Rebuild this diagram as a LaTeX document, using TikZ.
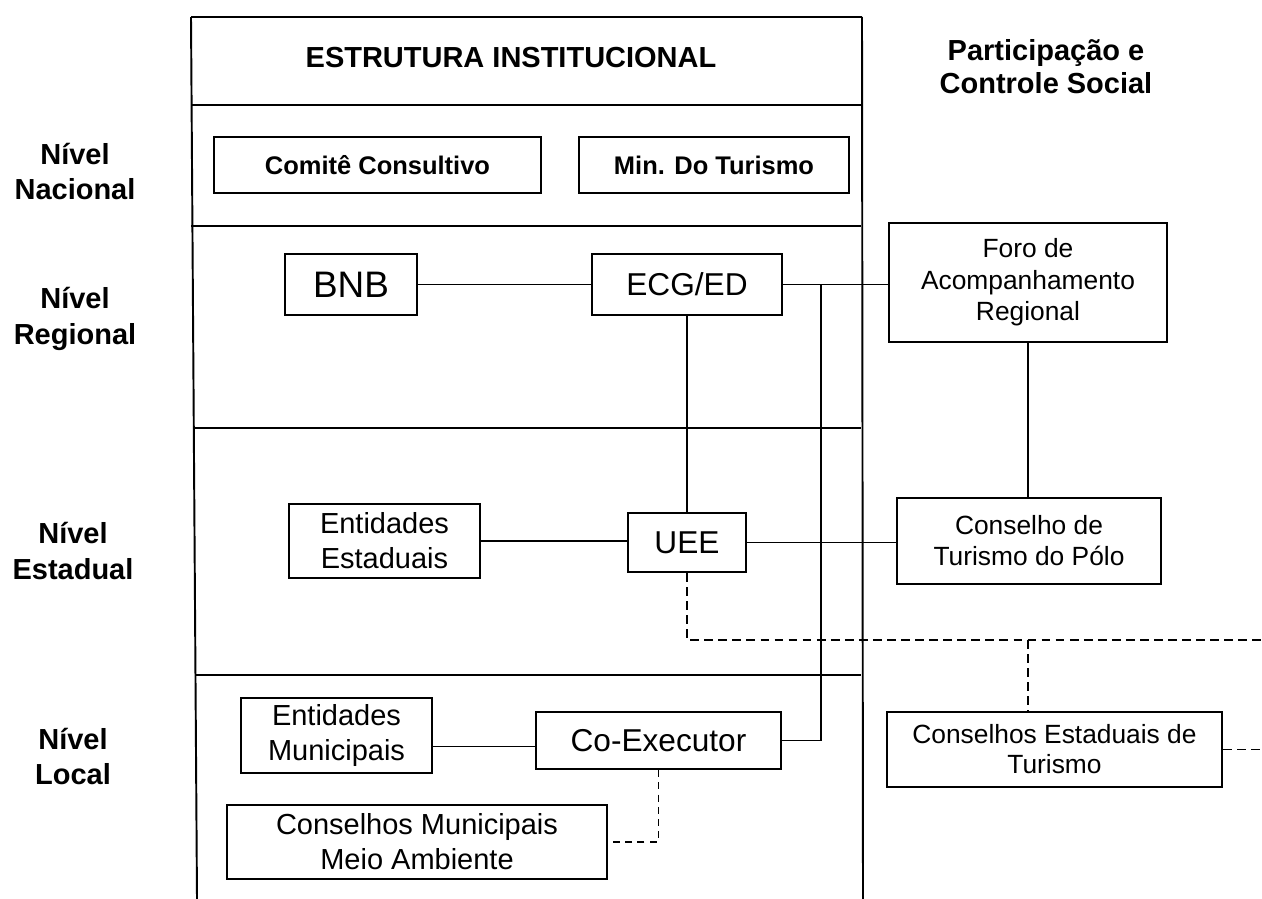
\documentclass[tikz,border=0pt]{standalone}
\usepackage{fontspec}
\setmainfont{Liberation Sans}
\begin{document}
\begin{tikzpicture}[x=0.02cm,y=-0.02cm,
  bx/.style={draw, line width=1.1pt, inner sep=0pt, align=center},
  sz/.style 2 args={minimum width=#1*0.02cm, minimum height=#2*0.02cm},
  fr/.style={line width=1.1pt},
  ln/.style={line width=1pt},
  dsh/.style={line width=1pt, dash pattern=on 5pt off 3pt},
  dshthin/.style={line width=0.7pt, dash pattern=on 4pt off 3pt},
  lvl/.style={font=\fontsize{16.5}{20}\selectfont\bfseries, align=center, inner sep=0pt},
  hd/.style={font=\fontsize{16.5}{19}\selectfont\bfseries, align=center, inner sep=0pt}
]
\useasboundingbox (0,0) rectangle (1262,899);

% frame of the institutional structure
\draw[fr] (191,17) -- (862,17);
\draw[fr] (191,17) -- (197,899);
\draw[fr] (862,17) -- (863,899);
\draw[fr] (191,105) -- (862,105);
\draw[fr] (191,226) -- (861,226);
\draw[fr] (194,428) -- (861,428);
\draw[fr] (195,675) -- (861,675);

% headers
\node[hd] (est) at (511,57.5) {ESTRUTURA INSTITUCIONAL};
\node[hd] (par) at (1046,66.5) {Participação e\\Controle Social};

% level labels
\node[lvl] (nac) at (75,171.5) {Nível\\Nacional};
\node[lvl] (reg) at (75,319) {Nível\\Regional};
\node[lvl] (estd) at (73,551) {Nível\\Estadual};
\node[lvl] (loc) at (73,756.5) {Nível\\Local};

% boxes
\node[bx, sz={327}{56}, font=\fontsize{14.5}{17}\selectfont\bfseries] (com) at (377.5,165) {Comitê Consultivo};
\node[bx, sz={270}{56}, font=\fontsize{14.5}{17}\selectfont\bfseries] (min) at (714,165) {Min. Do Turismo};

\node[bx, sz={132}{61}, font=\fontsize{21}{25}\selectfont] (bnb) at (351,284.5) {BNB};
\node[bx, sz={190}{61}, font=\fontsize{18}{22}\selectfont] (ecg) at (687,284.5) {ECG/ED};
\node[bx, sz={278}{119}, font=\fontsize{15}{18}\selectfont] (foro) at (1028,282.5) {Foro de\\Acompanhamento\\Regional};

\node[bx, sz={191}{74}, font=\fontsize{16.5}{20}\selectfont] (ente) at (384.5,541) {Entidades\\Estaduais};
\node[bx, sz={118}{59}, font=\fontsize{18}{22}\selectfont] (uee) at (687,542.5) {UEE};
\node[bx, sz={264}{86}, font=\fontsize{15}{17.7}\selectfont] (cons) at (1029,541) {Conselho de\\Turismo do Pólo};

\node[bx, sz={191}{75}, font=\fontsize{16.5}{20}\selectfont] (entm) at (336.5,735.5) {Entidades\\Municipais};
\node[bx, sz={245}{57}, font=\fontsize{18}{22}\selectfont] (coex) at (658.5,740.5) {Co-Executor};
\node[bx, sz={380}{74}, font=\fontsize{16.5}{20}\selectfont] (consm) at (417,842) {Conselhos Municipais\\Meio Ambiente};
\node[bx, sz={335}{75}, font=\fontsize{15}{17}\selectfont] (coest) at (1054.5,749.5) {Conselhos Estaduais de\\Turismo};

% solid connectors
\coordinate (j1) at (821,284.5);
\draw[ln] (bnb.east) -- (ecg.west);
\draw[ln] (ecg.east) -- (ecg.east -| foro.west);
\draw[ln] (coex.east) -| (j1);
\draw[ln] (ecg.south) -- (uee.north);
\draw[ln] (ente.east) -- (ente.east -| uee.west);
\draw[ln] (uee.east) -- (uee.east -| cons.west);
\draw[ln] (foro.south) -- (foro.south |- cons.north);
\draw[ln] ([yshift=-0.12cm]coex.west) -- ([yshift=-0.12cm]coex.west -| entm.east);

% dashed connectors
\coordinate (d1) at (687,640);
\coordinate (dJ) at (1028,640);
\coordinate (dR) at (1262,640);
\coordinate (dR2) at (1262,749.5);
\draw[dsh] (uee.south) -- (d1) -- (dR);
\draw[dsh] (dJ) -- (dJ |- coest.north);
\draw[dsh] (coest.east) -- (dR2);
\draw[dshthin] (coex.south) |- (consm.east);
\end{tikzpicture}
\end{document}
